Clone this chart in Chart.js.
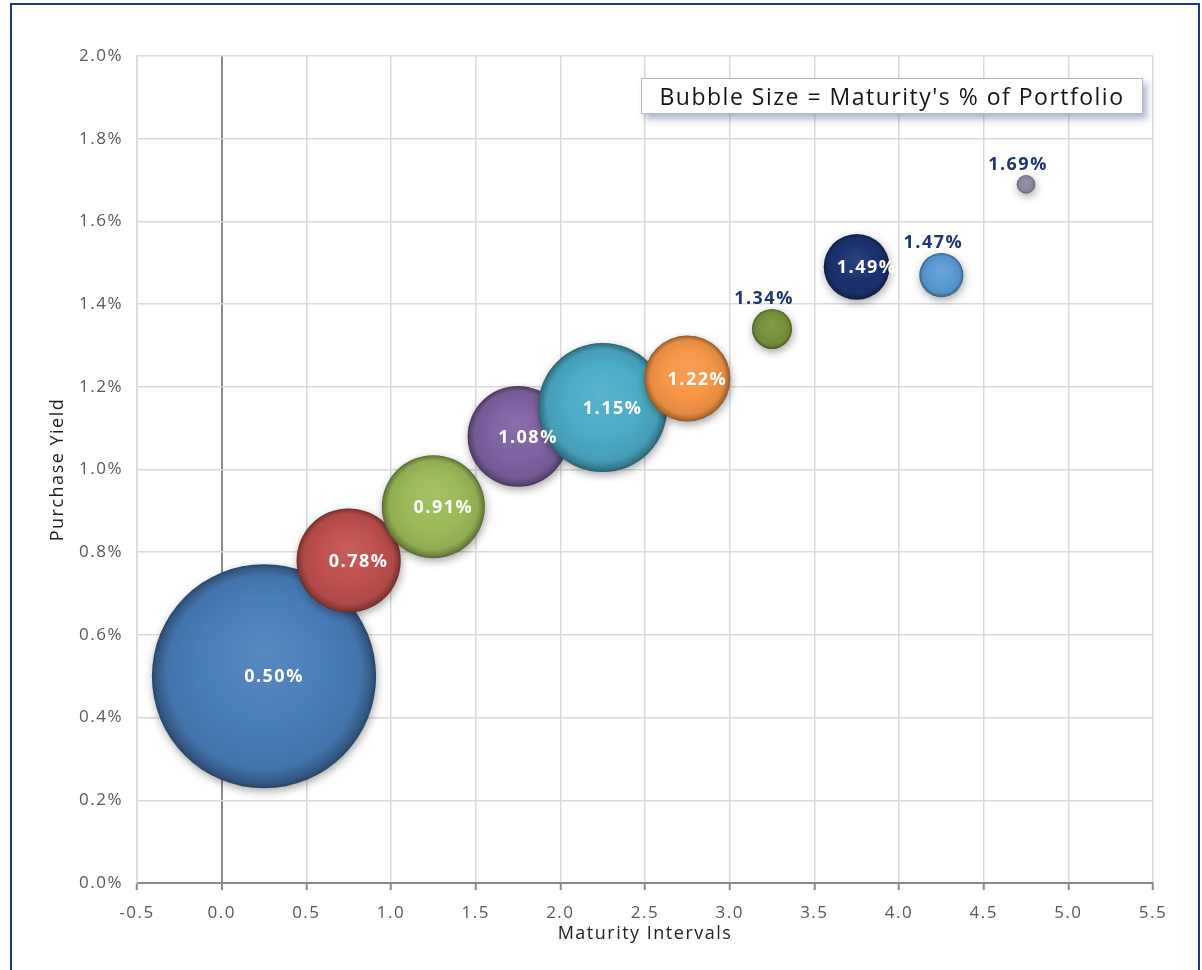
<!DOCTYPE html>
<html>
<head>
<meta charset="utf-8">
<script src="https://cdn.jsdelivr.net/npm/chart.js@4.4.1/dist/chart.umd.min.js"></script>
<style>
  html, body { margin: 0; padding: 0; background: #fff; }
  #wrap { position: relative; width: 1202px; height: 970px; overflow: hidden; background: #fff; }
  #frame { position: absolute; left: 10px; top: 3px; width: 1190px; height: 1000px;
           border: 2px solid #1f3a78; box-sizing: border-box; pointer-events: none; }
  #chart { position: absolute; left: 0; top: 0; }
  #note { position: absolute; left: 641px; top: 78px; width: 502px; height: 36px; box-sizing: border-box;
          background: #fff; border: 1px solid #b8b8b8; box-shadow: 4px 5px 7px rgba(70, 90, 150, 0.45);
          font-family: "Open Sans", sans-serif; font-size: 23px; color: #151515;
          display: flex; align-items: center; justify-content: center; letter-spacing: 1.5px; }
</style>
</head>
<body>
<div id="wrap">
  <div id="frame"></div>
  <canvas id="chart" width="1202" height="970"></canvas>
  <div id="note">Bubble Size = Maturity's % of Portfolio</div>
</div>
<script>
// Maturity buckets (years) and the purchase yield (%) of each bucket
const maturityIntervals = [0.25, 0.75, 1.25, 1.75, 2.25, 2.75, 3.25, 3.75, 4.25, 4.75];
const purchaseYields    = [0.50, 0.78, 0.91, 1.08, 1.15, 1.22, 1.34, 1.49, 1.47, 1.69];
// Share of the portfolio held in each bucket (%), sets the bubble area
const portfolioShares   = [44.0, 9.5, 9.3, 8.9, 14.6, 6.5, 1.4, 3.8, 1.7, 0.3];
const bubbleColors      = ['#4a7ebb', '#c0504d', '#9bbb59', '#7f62a1', '#4bacc6',
                           '#f79646', '#77933c', '#1a3370', '#5b9bd5', '#8e8aa0'];
const xTicks = [-0.5, 0.0, 0.5, 1.0, 1.5, 2.0, 2.5, 3.0, 3.5, 4.0, 4.5, 5.0, 5.5];
const yTicks = [0.0, 0.2, 0.4, 0.6, 0.8, 1.0, 1.2, 1.4, 1.6, 1.8, 2.0];

const BUBBLE_SCALE = 16.9; // px of radius per sqrt(% of portfolio)

function shade(hex, amt) {
  const n = parseInt(hex.slice(1), 16);
  let r = (n >> 16) & 255, g = (n >> 8) & 255, b = n & 255;
  const f = c => Math.max(0, Math.min(255, Math.round(amt >= 0 ? c + (255 - c) * amt : c * (1 + amt))));
  return `rgb(${f(r)},${f(g)},${f(b)})`;
}

const points = maturityIntervals.map((x, i) => ({
  x: x,
  y: purchaseYields[i],
  r: BUBBLE_SCALE * Math.sqrt(portfolioShares[i])
}));

// Shaded sphere-like fill for each bubble
function bubbleFill(ctx) {
  const chart = ctx.chart;
  const raw = ctx.raw;
  const base = bubbleColors[ctx.dataIndex];
  if (!raw || !chart.scales.x || !chart.scales.y) return base;
  const cx = chart.scales.x.getPixelForValue(raw.x);
  const cy = chart.scales.y.getPixelForValue(raw.y);
  const r = raw.r;
  if (!isFinite(cx) || !isFinite(cy)) return base;
  const g = chart.ctx.createRadialGradient(cx, cy - r * 0.25, 0, cx, cy, r);
  g.addColorStop(0, shade(base, 0.08));
  g.addColorStop(0.55, base);
  g.addColorStop(0.86, shade(base, -0.08));
  g.addColorStop(0.96, shade(base, -0.30));
  g.addColorStop(1, shade(base, -0.45));
  return g;
}

// Wider letter spacing for every text drawn on the canvas
const textSpacing = {
  id: 'textSpacing',
  beforeDraw(chart) { chart.ctx.letterSpacing = '1.5px'; }
};

const bubbleShadow = {
  id: 'bubbleShadow',
  beforeDatasetDraw(chart) {
    const c = chart.ctx;
    c.save();
    c.shadowColor = 'rgba(0,0,0,0.35)';
    c.shadowBlur = 8;
    c.shadowOffsetX = 1;
    c.shadowOffsetY = 3;
  },
  afterDatasetDraw(chart) {
    chart.ctx.restore();
  }
};

const valueLabels = {
  id: 'valueLabels',
  afterDatasetsDraw(chart) {
    const c = chart.ctx;
    const meta = chart.getDatasetMeta(0);
    c.save();
    c.font = 'bold 18px "Open Sans", sans-serif';
    c.textAlign = 'center';
    c.textBaseline = 'middle';
    meta.data.forEach((el, i) => {
      const text = purchaseYields[i].toFixed(2) + '%';
      const r = el.options.radius;
      if (r >= 30) {
        c.fillStyle = '#ffffff';
        c.fillText(text, el.x + 10, el.y + 1);
      } else {
        c.fillStyle = '#1f3570';
        c.fillText(text, el.x - 8, el.y - r - 10);
      }
    });
    c.restore();
  }
};

const tickFont = { family: '"Open Sans", sans-serif', size: 17 };
const titleFont = { family: '"Open Sans", sans-serif', size: 18 };

new Chart(document.getElementById('chart'), {
  type: 'bubble',
  data: {
    datasets: [{
      data: points,
      backgroundColor: bubbleFill,
      borderWidth: 0,
      hoverBorderWidth: 0,
      hoverRadius: 0
    }]
  },
  options: {
    responsive: false,
    animation: false,
    events: [],
    devicePixelRatio: 1,
    layout: { autoPadding: false, padding: { left: 0, top: 56, right: 49, bottom: 0 } },
    plugins: { legend: { display: false }, tooltip: { enabled: false } },
    scales: {
      x: {
        type: 'linear',
        min: xTicks[0],
        max: xTicks[xTicks.length - 1],
        afterBuildTicks: s => { s.ticks = xTicks.map(v => ({ value: v })); },
        afterFit: s => { s.height = 87; },
        ticks: { callback: v => v.toFixed(1), font: tickFont, color: '#595959', padding: 13, maxRotation: 0 },
        grid: {
          color: c => (c.tick && Math.abs(c.tick.value) < 1e-9) ? '#8a8a8a' : '#d9d9d9',
          lineWidth: c => (c.tick && Math.abs(c.tick.value) < 1e-9) ? 2 : 1.5,
          tickColor: '#8a8a8a',
          tickLength: 7,
          tickWidth: 2
        },
        border: { color: '#8a8a8a', width: 2 },
        title: { display: true, text: 'Maturity Intervals', font: titleFont, color: '#222',
                 padding: { top: 0, bottom: 25 } }
      },
      y: {
        type: 'linear',
        min: yTicks[0],
        max: yTicks[yTicks.length - 1],
        afterBuildTicks: s => { s.ticks = yTicks.map(v => ({ value: v })); },
        afterFit: s => { s.width = 137; },
        ticks: { callback: v => v.toFixed(1) + '%', font: tickFont, color: '#595959', padding: 14 },
        grid: { color: '#d9d9d9', lineWidth: 1.5, drawTicks: false },
        border: { color: '#d9d9d9', width: 1.5 },
        title: { display: true, text: 'Purchase Yield', font: titleFont, color: '#222',
                 padding: { top: 47, bottom: 0 } }
      }
    }
  },
  plugins: [textSpacing, bubbleShadow, valueLabels]
});
</script>
</body>
</html>
